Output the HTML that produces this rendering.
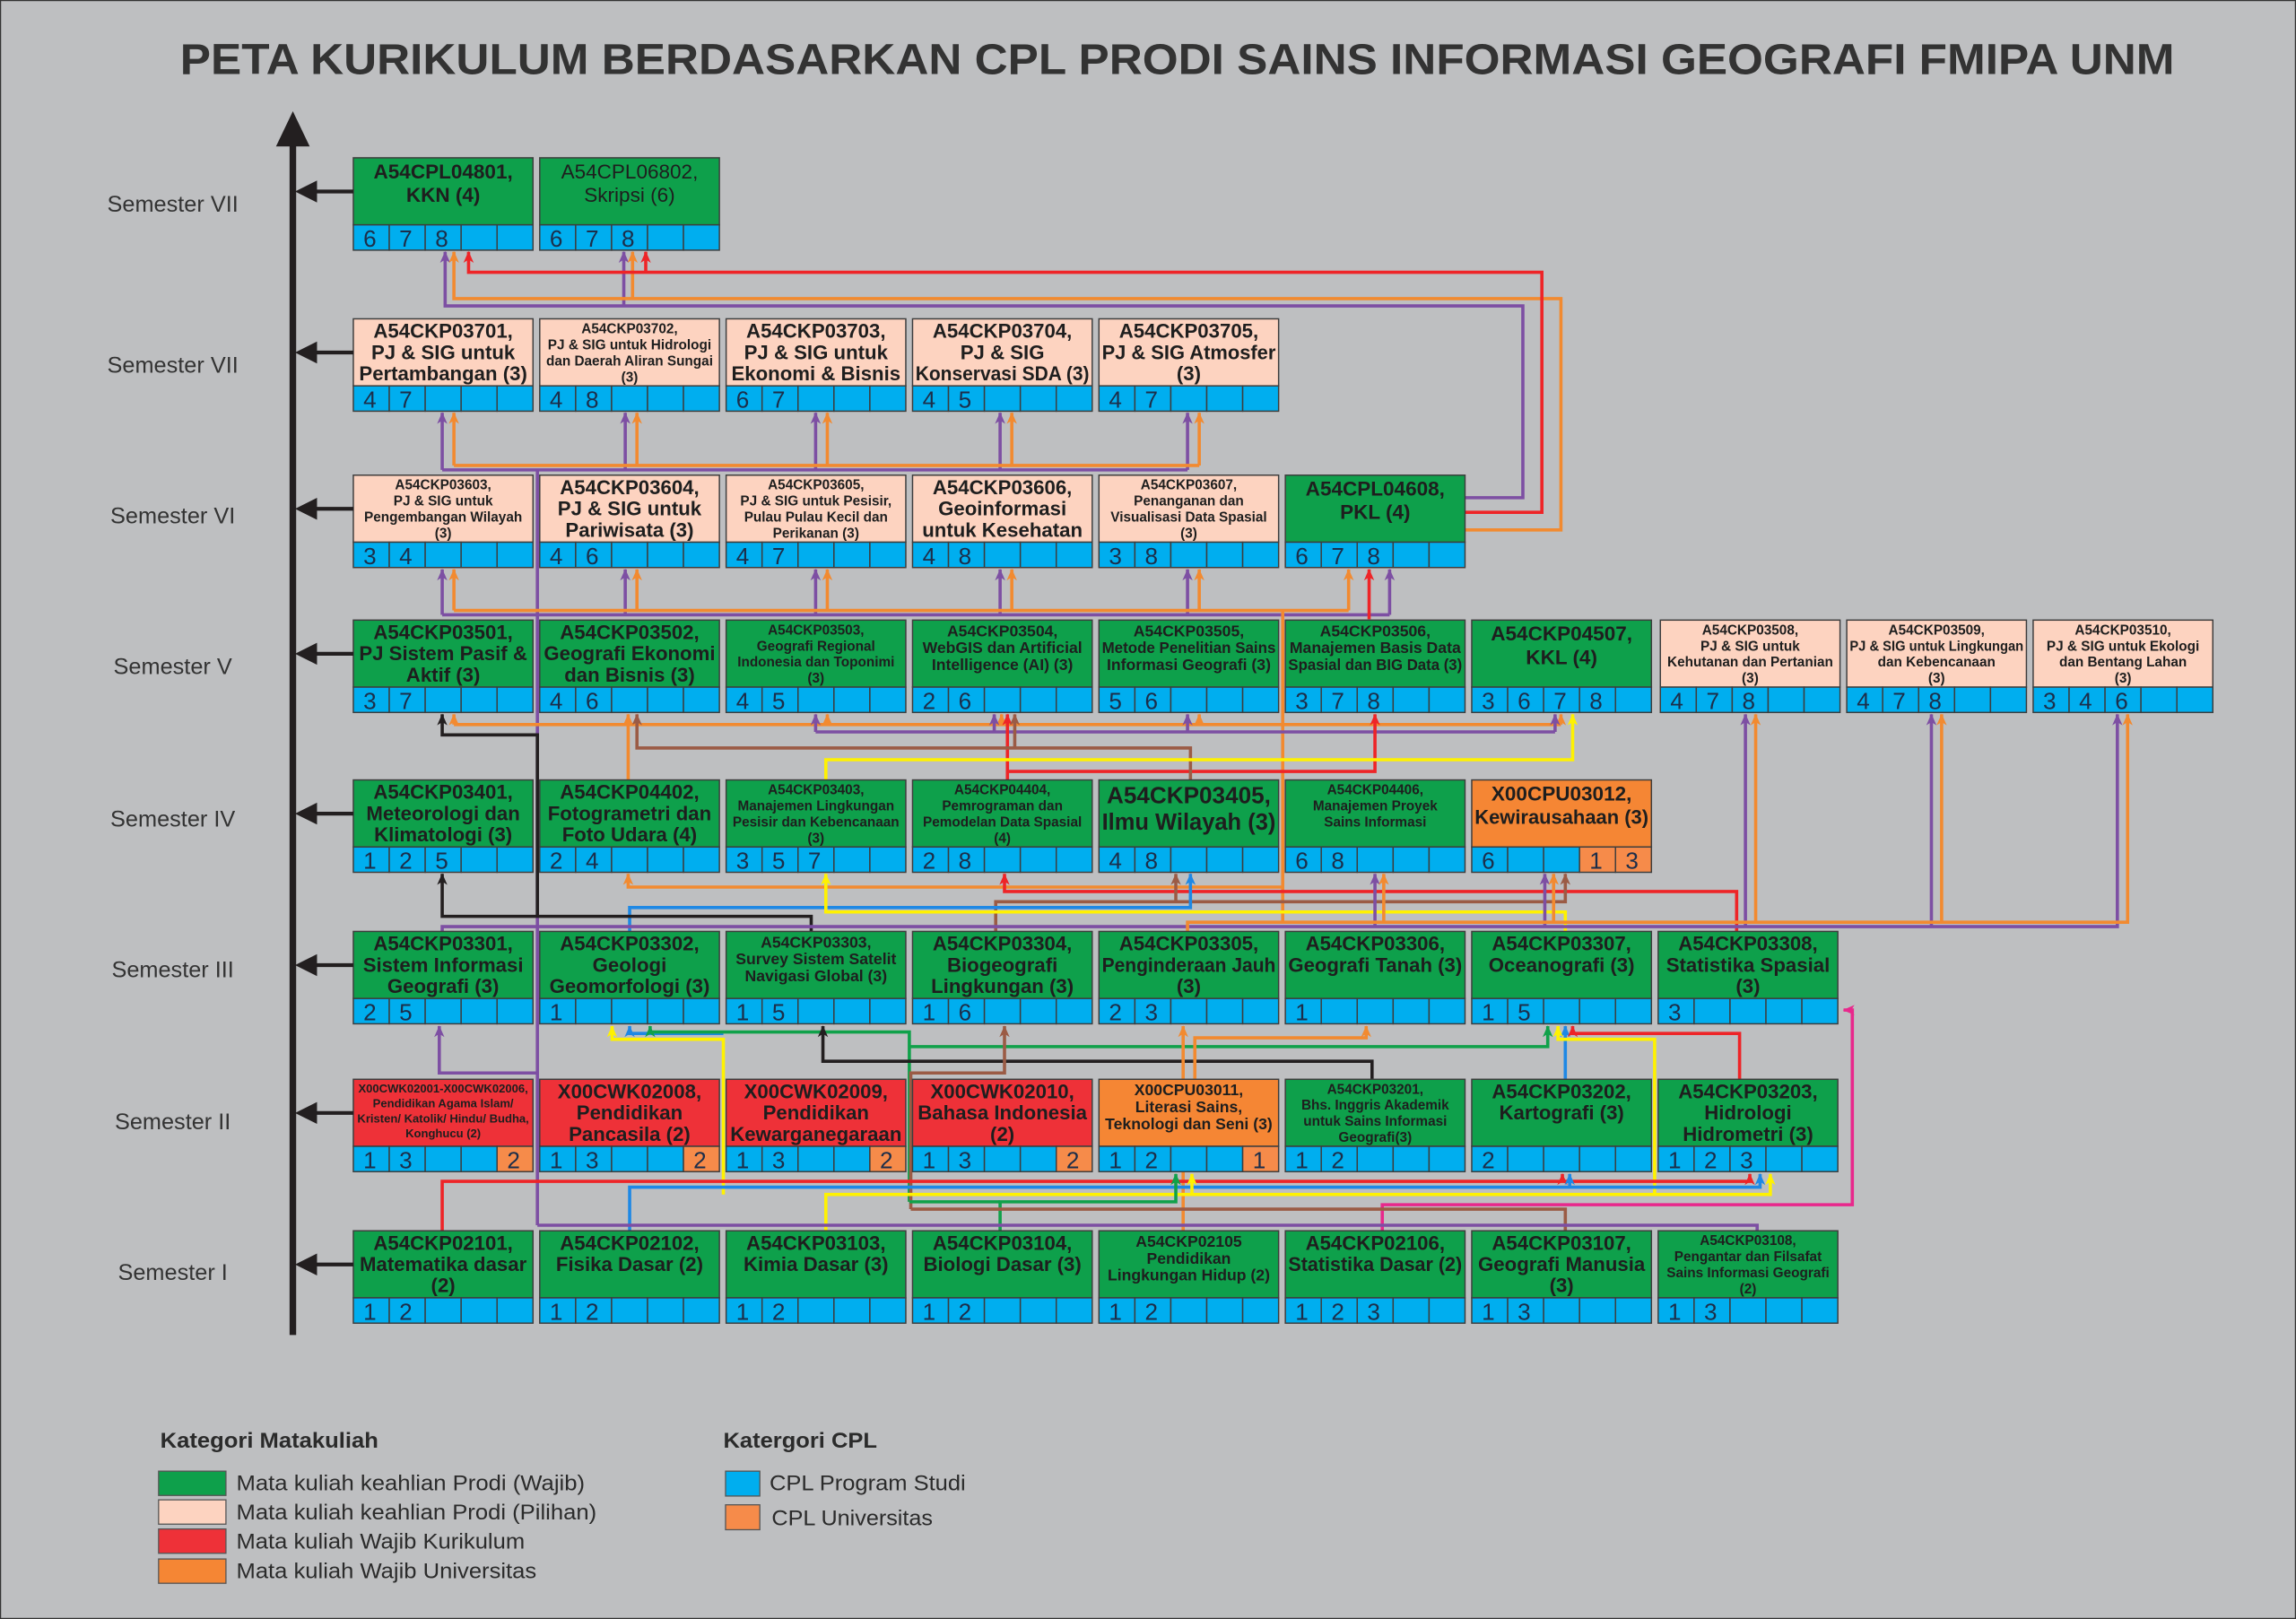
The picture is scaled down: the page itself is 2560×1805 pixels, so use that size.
<!DOCTYPE html>
<html><head><meta charset="utf-8">
<style>
html,body{margin:0;padding:0;background:#bebfc1;}
svg{display:block;}
text{font-family:"Liberation Sans Narrow","Liberation Sans",sans-serif;}
</style></head>
<body>
<svg id="s" xmlns="http://www.w3.org/2000/svg" width="2560" height="1805" viewBox="0 0 1568 1106" preserveAspectRatio="none">
<defs id="defs"></defs>
<rect x="0" y="0" width="1568" height="1106" fill="#bebfc1" stroke="#333" stroke-width="1.5"/>
<text x="123" y="50.5" font-size="29.5" font-weight="bold" fill="#333" textLength="1362" lengthAdjust="spacingAndGlyphs" style="font-family:'Liberation Sans',sans-serif">PETA KURIKULUM BERDASARKAN CPL PRODI SAINS INFORMASI GEOGRAFI FMIPA UNM</text>
<line x1="200" y1="98" x2="200" y2="912" stroke="#231f20" stroke-width="4.5"/>
<polygon points="200,76 188.5,100 211.5,100" fill="#231f20"/>
<g id="conn"></g>
<g id="boxes"></g>
<g id="legend">
<text x="109.4" y="989" font-size="14.5" font-weight="bold" fill="#2b2b2b" textLength="149" lengthAdjust="spacingAndGlyphs">Kategori Matakuliah</text>
<rect x="108.3" y="1005" width="46" height="16.6" fill="#0ea04b" stroke="#555" stroke-width="0.8"/>
<rect x="108.3" y="1024.6" width="46" height="16.6" fill="#fdd3c0" stroke="#555" stroke-width="0.8"/>
<rect x="108.3" y="1044.5" width="46" height="16.6" fill="#ee3138" stroke="#555" stroke-width="0.8"/>
<rect x="108.3" y="1065" width="46" height="16.6" fill="#f58634" stroke="#555" stroke-width="0.8"/>
<text x="161.4" y="1018" font-size="15" fill="#2b2b2b" textLength="238" lengthAdjust="spacingAndGlyphs">Mata kuliah keahlian Prodi (Wajib)</text>
<text x="161.4" y="1038" font-size="15" fill="#2b2b2b" textLength="246" lengthAdjust="spacingAndGlyphs">Mata kuliah keahlian Prodi (Pilihan)</text>
<text x="161.4" y="1058" font-size="15" fill="#2b2b2b" textLength="197" lengthAdjust="spacingAndGlyphs">Mata kuliah Wajib Kurikulum</text>
<text x="161.4" y="1078" font-size="15" fill="#2b2b2b" textLength="205" lengthAdjust="spacingAndGlyphs">Mata kuliah Wajib Universitas</text>
<text x="494" y="989" font-size="14.5" font-weight="bold" fill="#2b2b2b" textLength="105" lengthAdjust="spacingAndGlyphs">Katergori CPL</text>
<rect x="495.5" y="1005" width="23.4" height="17" fill="#00aeef" stroke="#555" stroke-width="0.8"/>
<rect x="495.5" y="1028" width="23.4" height="17" fill="#f68b4a" stroke="#555" stroke-width="0.8"/>
<text x="525.5" y="1018" font-size="15" fill="#2b2b2b" textLength="134" lengthAdjust="spacingAndGlyphs">CPL Program Studi</text>
<text x="527" y="1042" font-size="15" fill="#2b2b2b" textLength="110" lengthAdjust="spacingAndGlyphs">CPL Universitas</text>
</g>
</svg>
<script>
(function(){
var NS="http://www.w3.org/2000/svg";
var svg=document.getElementById("s"),defs=document.getElementById("defs"),conn=document.getElementById("conn"),boxes=document.getElementById("boxes");
function el(t,a,p){var e=document.createElementNS(NS,t);for(var k in a)e.setAttribute(k,a[k]);(p||svg).appendChild(e);return e;}
var W=122.7,STEP=127.3,X0=241.3,TH=45.8,CH=17.3;
var tops=[107.8,217.8,324.6,423.6,532.8,636.3,737.3,840.8];
var labY=[139,249,352,455,559,662,766,869];
var sems=["Semester VII","Semester VII","Semester VI","Semester V","Semester IV","Semester III","Semester II","Semester I"];
var G="#0ea04b",P="#fdd3c0",R="#ee3138",O="#f58634";
tops.forEach(function(t,i){
 var ay=t+23;
 el("line",{x1:212,y1:ay,x2:241.3,y2:ay,stroke:"#231f20","stroke-width":2.6});
 el("polygon",{points:"201.5,"+ay+" 216.5,"+(ay-7.5)+" 216.5,"+(ay+7.5),fill:"#231f20"});
 var tx=el("text",{x:118,y:labY[i]+5.5,"font-size":15.5,fill:"#333","text-anchor":"middle"});tx.textContent=sems[i];
});
var F={L:{fs:13.6,lh:14.5,y0:13},L2:{fs:13.8,lh:16,y0:14},S:{fs:9.4,lh:11,y0:9.8},M:{fs:10.8,lh:11.5,y0:11},XS:{fs:8,lh:10.2,y0:9},XL:{fs:16,lh:18,y0:16}};
var B=[
[0,0,G,"L2",["A54CPL04801,","KKN (4)"],[6,7,8]],
[0,1,G,"L2",["A54CPL06802,","Skripsi (6)"],[6,7,8],1],
[1,0,P,"L",["A54CKP03701,","PJ & SIG untuk","Pertambangan (3)"],[4,7]],
[1,1,P,"S",["A54CKP03702,","PJ & SIG untuk Hidrologi","dan Daerah Aliran Sungai","(3)"],[4,8]],
[1,2,P,"L",["A54CKP03703,","PJ & SIG untuk","Ekonomi & Bisnis"],[6,7]],
[1,3,P,"L",["A54CKP03704,","PJ & SIG","Konservasi SDA (3)"],[4,5]],
[1,4,P,"L",["A54CKP03705,","PJ & SIG Atmosfer","(3)"],[4,7]],
[2,0,P,"S",["A54CKP03603,","PJ & SIG untuk","Pengembangan Wilayah","(3)"],[3,4]],
[2,1,P,"L",["A54CKP03604,","PJ & SIG untuk","Pariwisata (3)"],[4,6]],
[2,2,P,"S",["A54CKP03605,","PJ & SIG untuk Pesisir,","Pulau Pulau Kecil dan","Perikanan (3)"],[4,7]],
[2,3,P,"L",["A54CKP03606,","Geoinformasi","untuk Kesehatan"],[4,8]],
[2,4,P,"S",["A54CKP03607,","Penanganan dan","Visualisasi Data Spasial","(3)"],[3,8]],
[2,5,G,"L2",["A54CPL04608,","PKL (4)"],[6,7,8]],
[3,0,G,"L",["A54CKP03501,","PJ Sistem Pasif &","Aktif (3)"],[3,7]],
[3,1,G,"L",["A54CKP03502,","Geografi Ekonomi","dan Bisnis (3)"],[4,6]],
[3,2,G,"S",["A54CKP03503,","Geografi Regional","Indonesia dan Toponimi","(3)"],[4,5]],
[3,3,G,"M",["A54CKP03504,","WebGIS dan Artificial","Intelligence (AI) (3)"],[2,6]],
[3,4,G,"M",["A54CKP03505,","Metode Penelitian Sains","Informasi Geografi (3)"],[5,6]],
[3,5,G,"M",["A54CKP03506,","Manajemen Basis Data","Spasial dan BIG Data (3)"],[3,7,8]],
[3,6,G,"L2",["A54CKP04507,","KKL (4)"],[3,6,7,8]],
[3,7,P,"S",["A54CKP03508,","PJ & SIG untuk","Kehutanan dan Pertanian","(3)"],[4,7,8]],
[3,8,P,"S",["A54CKP03509,","PJ & SIG untuk Lingkungan","dan Kebencanaan","(3)"],[4,7,8]],
[3,9,P,"S",["A54CKP03510,","PJ & SIG untuk Ekologi","dan Bentang Lahan","(3)"],[3,4,6]],
[4,0,G,"L",["A54CKP03401,","Meteorologi dan","Klimatologi (3)"],[1,2,5]],
[4,1,G,"L",["A54CKP04402,","Fotogrametri dan","Foto Udara (4)"],[2,4]],
[4,2,G,"S",["A54CKP03403,","Manajemen Lingkungan","Pesisir dan Kebencanaan","(3)"],[3,5,7]],
[4,3,G,"S",["A54CKP04404,","Pemrograman dan","Pemodelan Data Spasial","(4)"],[2,8]],
[4,4,G,"XL",["A54CKP03405,","Ilmu Wilayah (3)"],[4,8]],
[4,5,G,"S",["A54CKP04406,","Manajemen Proyek","Sains Informasi"],[6,8]],
[4,6,O,"L2",["X00CPU03012,","Kewirausahaan (3)"],[6,"","","o1","o3"]],
[5,0,G,"L",["A54CKP03301,","Sistem Informasi","Geografi (3)"],[2,5]],
[5,1,G,"L",["A54CKP03302,","Geologi","Geomorfologi (3)"],[1]],
[5,2,G,"M",["A54CKP03303,","Survey Sistem Satelit","Navigasi Global  (3)"],[1,5]],
[5,3,G,"L",["A54CKP03304,","Biogeografi","Lingkungan (3)"],[1,6]],
[5,4,G,"L",["A54CKP03305,","Penginderaan Jauh","(3)"],[2,3]],
[5,5,G,"L",["A54CKP03306,","Geografi Tanah (3)"],[1]],
[5,6,G,"L",["A54CKP03307,","Oceanografi (3)"],[1,5]],
[5,7,G,"L",["A54CKP03308,","Statistika Spasial","(3)"],[3]],
[6,0,R,"XS",["X00CWK02001-X00CWK02006,","Pendidikan Agama Islam/","Kristen/ Katolik/ Hindu/ Budha,","Konghucu (2)"],[1,3,"","","o2"]],
[6,1,R,"L",["X00CWK02008,","Pendidikan","Pancasila (2)"],[1,3,"","","o2"]],
[6,2,R,"L",["X00CWK02009,","Pendidikan","Kewarganegaraan"],[1,3,"","","o2"]],
[6,3,R,"L",["X00CWK02010,","Bahasa Indonesia","(2)"],[1,3,"","","o2"]],
[6,4,O,"M",["X00CPU03011,","Literasi Sains,","Teknologi dan Seni (3)"],[1,2,"","","o1"]],
[6,5,G,"S",["A54CKP03201,","Bhs. Inggris Akademik","untuk Sains Informasi","Geografi(3)"],[1,2]],
[6,6,G,"L",["A54CKP03202,","Kartografi (3)"],[2]],
[6,7,G,"L",["A54CKP03203,","Hidrologi","Hidrometri (3)"],[1,2,3]],
[7,0,G,"L",["A54CKP02101,","Matematika dasar","(2)"],[1,2]],
[7,1,G,"L",["A54CKP02102,","Fisika Dasar (2)"],[1,2]],
[7,2,G,"L",["A54CKP03103,","Kimia Dasar (3)"],[1,2]],
[7,3,G,"L",["A54CKP03104,","Biologi Dasar (3)"],[1,2]],
[7,4,G,"M",["A54CKP02105","Pendidikan","Lingkungan Hidup (2)"],[1,2]],
[7,5,G,"L",["A54CKP02106,","Statistika Dasar (2)"],[1,2,3]],
[7,6,G,"L",["A54CKP03107,","Geografi Manusia","(3)"],[1,3]],
[7,7,G,"S",["A54CKP03108,","Pengantar dan Filsafat","Sains Informasi Geografi","(2)"],[1,3]]
];
var fitList=[];
B.forEach(function(b){
 var r=b[0],c=b[1],x=X0+c*STEP,t=tops[r];
 if(r==3&&c>=7)x+=1.5;
 el("rect",{x:x,y:t,width:W,height:TH,fill:b[2],stroke:"#3d3d3d","stroke-width":0.9},boxes);
 var f=F[b[3]],cx=x+W/2;
 b[4].forEach(function(s,i){
  var tx=el("text",{x:cx,y:t+f.y0+i*f.lh,"font-size":f.fs,"font-weight":b[6]?"normal":"bold",fill:"#1e1e1e","text-anchor":"middle"},boxes);
  tx.textContent=s;fitList.push(tx);
 });
 var cw=W/5;
 for(var k=0;k<5;k++){
  var v=b[5][k],org=false;
  if(v===undefined)v="";
  if(typeof v=="string"&&v.charAt(0)=="o"){org=true;v=v.substring(1);}
  el("rect",{x:x+k*cw,y:t+TH,width:cw,height:CH,fill:org?"#f68b4a":"#00aeef",stroke:"#3d3d3d","stroke-width":0.9},boxes);
  if(v!==""){var d=el("text",{x:x+k*cw+cw/2-1,y:t+TH+15,"font-size":16,fill:"#1c2e4a","text-anchor":"middle"},boxes);d.textContent=v;}
 }
});
var COL={pu:"#7d4fa3",or:"#f28a30",re:"#ee2427",br:"#9b5b45",ye:"#fff200",bl:"#1e88e5",gr:"#10a14a",bk:"#231f20",pk:"#e8288c"};
for(var k in COL){
 var m=el("marker",{id:"m"+k,markerUnits:"userSpaceOnUse",markerWidth:8,markerHeight:9,refX:7.5,refY:3.5,orient:"auto",overflow:"visible"},defs);
 el("path",{d:"M0,0 L8,3.5 L0,7 L2.2,3.5 Z",fill:COL[k]},m);
}
function L(c,pts,arrow){
 var p=el("polyline",{points:pts.map(function(q){return q.join(",");}).join(" "),fill:"none",stroke:COL[c],"stroke-width":2.2,"stroke-linejoin":"miter"},conn);
 if(arrow!==false)p.setAttribute("marker-end","url(#m"+c+")");
}
L("pu",[[1000,340],[1040,340],[1040,209],[304,209],[304,172]]);
L("pu",[[426,209],[426,172]]);
L("or",[[1000,362],[1066,362],[1066,204],[310,204],[310,172]]);
L("or",[[432,204],[432,172]]);
L("re",[[1000,350],[1053,350],[1053,186],[320,186],[320,172]]);
L("re",[[441,186],[441,172]]);
L("pu",[[302,321],[811,321]],false);
[302,427,557,683,811].forEach(function(x){L("pu",[[x,321],[x,282]]);});
L("or",[[310,318],[819,318]],false);
[310,435,565,691,819].forEach(function(x){L("or",[[x,318],[x,282]]);});
L("pu",[[367,321],[367,837]],false);
L("pu",[[302,420],[949,420]],false);
[302,427,557,683,811,949].forEach(function(x){L("pu",[[x,420],[x,389]]);});
L("or",[[310,417],[921,417]],false);
[310,435,565,691,819,921].forEach(function(x){L("or",[[x,417],[x,389]]);});
L("re",[[935,423],[935,389]]);
L("or",[[876,417],[876,631]],false);
L("or",[[310,495],[1066,495]],false);
[310,565,684,819,1066].forEach(function(x){L("or",[[x,495],[x,488]]);});
L("pu",[[557,500],[1062,500]],false);
[557,679,811,1062].forEach(function(x){L("pu",[[x,500],[x,488]]);});
L("re",[[688,533],[688,488]]);
L("re",[[688,527],[939,527],[939,488]]);
L("br",[[813,533],[813,511],[435,511],[435,488]]);
L("br",[[693,511],[693,488]]);
L("ye",[[564,533],[564,519],[1074,519],[1074,488]]);
L("bk",[[367,626],[367,502],[302,502],[302,488]]);
L("or",[[429,533],[429,488]]);
L("or",[[876,606],[429,606],[429,597]]);
L("re",[[1186,637],[1186,609],[686,609],[686,597]]);
L("br",[[680,637],[680,616],[1069,616],[1069,597]]);
L("br",[[803,616],[803,597]]);
L("bl",[[430,637],[430,620],[813,620],[813,597]]);
L("ye",[[1069,637],[1069,623],[564,623],[564,597]]);
L("bk",[[554,637],[554,626],[302,626],[302,597]]);
L("pu",[[302,637],[302,633],[1446,633],[1446,488]]);
[939,1055].forEach(function(x){L("pu",[[x,633],[x,597]]);});
[1192,1319].forEach(function(x){L("pu",[[x,633],[x,488]]);});
L("or",[[811,637],[811,630],[1453,630],[1453,488]]);
[945,1061].forEach(function(x){L("or",[[x,630],[x,597]]);});
[1199,1326].forEach(function(x){L("or",[[x,630],[x,488]]);});
L("pu",[[367,733],[300,733],[300,701]]);
L("ye",[[494,816],[494,710],[418,710],[418,701]]);
L("bl",[[494,706],[430,706],[430,701]]);
L("gr",[[621,821],[621,705],[444,705],[444,701]]);
L("gr",[[621,715],[1057,715],[1057,701]]);
L("bk",[[937,737],[937,725],[562,725],[562,701]]);
L("br",[[622,826],[622,733],[686,733],[686,701]]);
L("or",[[808,841],[808,701]]);
L("or",[[816,737],[816,709],[933,709],[933,701]]);
L("bl",[[1069,737],[1069,701]]);
L("re",[[1188,737],[1188,706],[1074,706],[1074,701]]);
L("ye",[[1130,816],[1130,710],[1064,710],[1064,701]]);
L("pk",[[944,841],[944,823],[1265,823],[1265,690],[1259,690]]);
L("re",[[302,841],[302,807],[1195,807],[1195,802]]);
L("re",[[1067,807],[1067,802]]);
L("bl",[[430,841],[430,811],[1202,811],[1202,802]]);
L("bl",[[1072,811],[1072,802]]);
L("ye",[[564,841],[564,816],[1209,816],[1209,802]]);
L("ye",[[814,816],[814,802]]);
L("gr",[[683,841],[683,821],[803,821],[803,802]]);
L("gr",[[621,821],[683,821]],false);
L("br",[[622,826],[1069,826],[1069,841]],false);
L("pu",[[367,837],[1200,837],[1200,841]],false);
fitList.forEach(function(t){
 try{var w=t.getComputedTextLength();if(w>W-4){t.setAttribute("textLength",W-4);t.setAttribute("lengthAdjust","spacingAndGlyphs");}}catch(e){}
});
})();
</script>
</body></html>
